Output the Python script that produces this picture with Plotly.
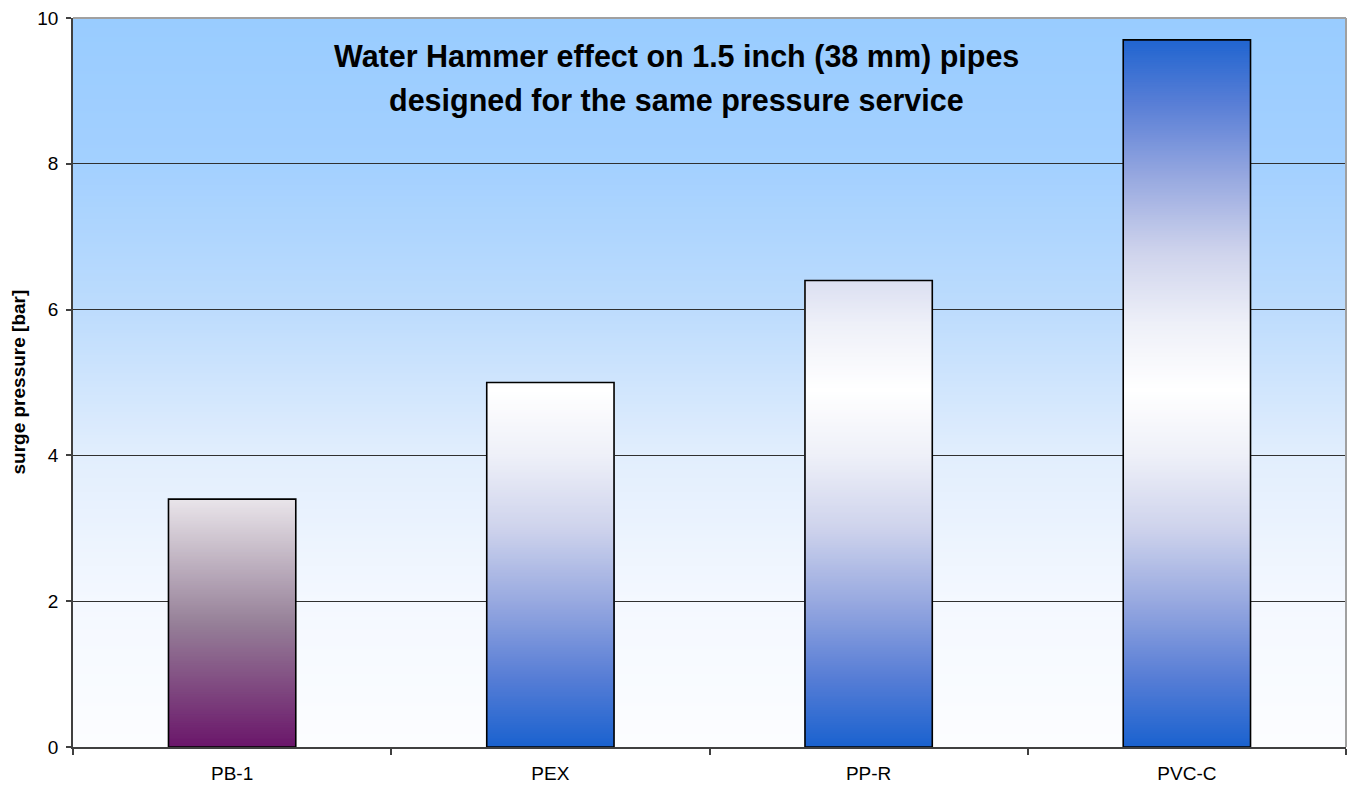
import base64
import struct
import zlib

import plotly.graph_objects as go

# ---------------- data ----------------
categories = ["PB-1", "PEX", "PP-R", "PVC-C"]
surge_pressure = [3.4, 5.0, 6.4, 9.7]
y_ticks = [0, 2, 4, 6, 8, 10]
title_lines = [
    "Water Hammer effect on 1.5 inch (38 mm) pipes",
    "designed for the same pressure service",
]
y_title = "surge pressure [bar]"

# ---------------- colour helpers ----------------
def hex2rgb(h):
    h = h.lstrip("#")
    return tuple(int(h[i:i + 2], 16) for i in (0, 2, 4))


def interp(stops, v):
    """stops: list of (value, hex) ascending"""
    if v <= stops[0][0]:
        return hex2rgb(stops[0][1])
    if v >= stops[-1][0]:
        return hex2rgb(stops[-1][1])
    for (v0, c0), (v1, c1) in zip(stops[:-1], stops[1:]):
        if v0 <= v <= v1:
            t = (v - v0) / (v1 - v0)
            a, b = hex2rgb(c0), hex2rgb(c1)
            return tuple(round(a[i] + (b[i] - a[i]) * t) for i in range(3))
    return hex2rgb(stops[-1][1])


def rgb_str(c):
    return "rgb(%d,%d,%d)" % c


# blue gradient (absolute along the value axis, white in the middle)
blue_half = [(0, "#1A62CF"), (1, "#5A7FD6"), (2, "#98A9E0"),
             (3, "#CED3EC"), (4, "#EEF0F8"), (4.9, "#FFFFFF")]
blue_stops = blue_half + [(9.8 - v, c) for v, c in reversed(blue_half[:-1])]
# purple gradient for PB-1
purple_stops = [(0, "#6A166A"), (1.7, "#968098"), (3.4, "#E9E5EA")]
bar_scales = [purple_stops, blue_stops, blue_stops, blue_stops]

# background gradient of the plot area (value axis 0..10)
bg_stops = [(0, "#FCFDFF"), (2, "#F4F8FF"), (4, "#E2EEFD"),
            (6, "#BDDCFD"), (8, "#A3D0FF"), (10, "#99CCFF")]


def png_gradient(stops, lo, hi, rows=256):
    raw = b""
    for r in range(rows):
        v = hi - (hi - lo) * (r + 0.5) / rows
        c = interp(stops, v)
        raw += b"\x00" + bytes(c)

    def chunk(tag, data):
        return (struct.pack(">I", len(data)) + tag + data
                + struct.pack(">I", zlib.crc32(tag + data) & 0xFFFFFFFF))

    png = b"\x89PNG\r\n\x1a\n"
    png += chunk(b"IHDR", struct.pack(">IIBBBBB", 1, rows, 8, 2, 0, 0, 0))
    png += chunk(b"IDAT", zlib.compress(raw, 9))
    png += chunk(b"IEND", b"")
    return "data:image/png;base64," + base64.b64encode(png).decode()


# ---------------- figure ----------------
fig = go.Figure()

BAR_W = 0.4
xs = list(range(len(categories)))

# gradient fill of each bar: overlapping bar slices from value k/n up to the top
seg_x, seg_base, seg_h, seg_col = [], [], [], []
for i, (v, scale) in enumerate(zip(surge_pressure, bar_scales)):
    n = max(int(v * 40), 1)
    for k in range(n):
        b = v * k / n
        mid = v * (k + 0.5) / n
        seg_x.append(xs[i])
        seg_base.append(b)
        seg_h.append(v - b)
        seg_col.append(rgb_str(interp(scale, mid)))

fig.add_trace(go.Bar(
    x=seg_x, y=seg_h, base=seg_base, width=BAR_W,
    marker=dict(color=seg_col, line=dict(width=0)),
    hoverinfo="skip", showlegend=False,
))

# bar outlines (the actual data bars)
fig.add_trace(go.Bar(
    x=xs, y=surge_pressure, width=BAR_W,
    marker=dict(color="rgba(0,0,0,0)", line=dict(color="#000000", width=1.6)),
    customdata=categories,
    hovertemplate="%{customdata}: %{y} bar<extra></extra>",
    showlegend=False,
))

fig.update_layout(
    width=1349, height=787,
    barmode="overlay",
    paper_bgcolor="#FFFFFF",
    plot_bgcolor="rgba(0,0,0,0)",
    margin=dict(l=73, r=3, t=18, b=36),
    font=dict(family="Liberation Sans, Arial, sans-serif", size=19, color="#000000"),
    images=[dict(
        source=png_gradient(bg_stops, 0, 10),
        xref="paper", yref="paper", x=0, y=1, sizex=1, sizey=1,
        xanchor="left", yanchor="top", sizing="stretch", layer="below",
    )],
    xaxis=dict(
        range=[-0.5, len(categories) - 0.5],
        tickmode="array", tickvals=xs, ticktext=categories,
        ticks="", showgrid=False, zeroline=False,
        showline=True, linecolor="#404040", linewidth=1.5,
        ticklabelstandoff=8,
        tickfont=dict(size=19),
        minor=dict(tickmode="array",
                   tickvals=[x - 0.5 for x in xs] + [xs[-1] + 0.5],
                   ticks="outside", ticklen=6, tickcolor="#404040",
                   tickwidth=1.5, showgrid=False),
        fixedrange=True,
    ),
    yaxis=dict(
        range=[0, 10], tickmode="array", tickvals=y_ticks,
        ticks="outside", ticklen=5, tickcolor="#404040", tickwidth=1.5,
        showline=True, linecolor="#404040", linewidth=1.5,
        showgrid=True, gridcolor="#303030", gridwidth=1,
        zeroline=False, ticklabelstandoff=4,
        tickfont=dict(size=19),
        fixedrange=True,
    ),
    shapes=[
        dict(type="line", xref="paper", yref="paper", x0=0, x1=1, y0=1, y1=1,
             line=dict(color="#A0A0A0", width=2), layer="above"),
        dict(type="line", xref="paper", yref="paper", x0=1, x1=1, y0=0, y1=1,
             line=dict(color="#A0A0A0", width=2), layer="above"),
    ],
    annotations=[
        dict(text="<b>%s</b>" % title_lines[0], xref="paper", yref="paper",
             x=0.4737, y=0.9468, xanchor="center", yanchor="middle",
             showarrow=False, font=dict(size=30.5)),
        dict(text="<b>%s</b>" % title_lines[1], xref="paper", yref="paper",
             x=0.4737, y=0.8868, xanchor="center", yanchor="middle",
             showarrow=False, font=dict(size=30.5)),
        dict(text="<b>%s</b>" % y_title, xref="paper", yref="paper",
             x=0, y=0.5, xshift=-55, xanchor="center", yanchor="middle",
             textangle=-90, showarrow=False, font=dict(size=19)),
    ],
)

fig.write_html(
    "out.html",
    config={"displayModeBar": False},
    post_script="document.body.style.margin='0';document.body.style.overflow='hidden';",
)
